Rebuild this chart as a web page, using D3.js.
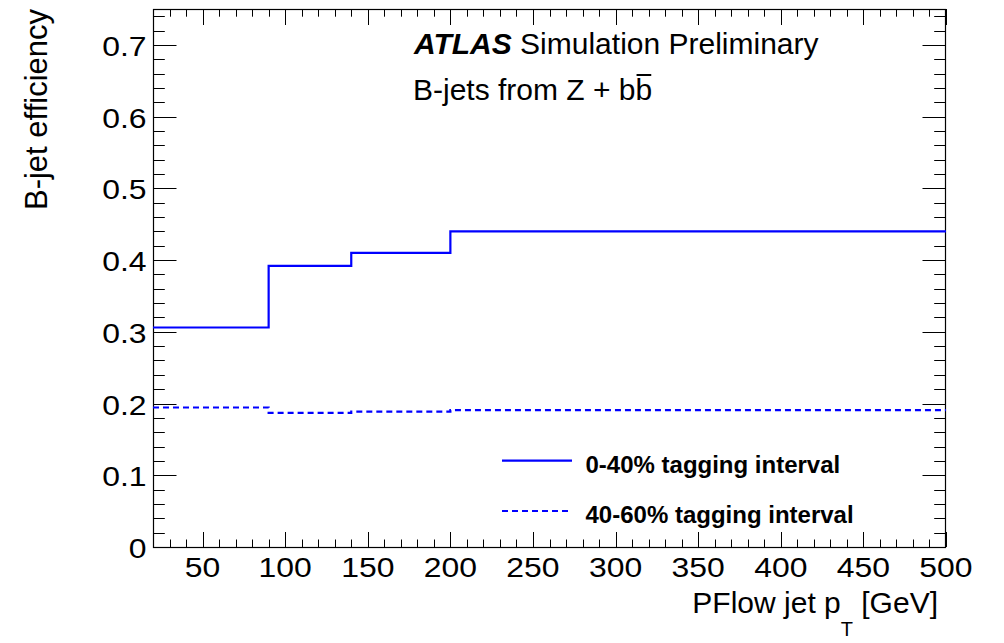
<!DOCTYPE html>
<html><head><meta charset="utf-8">
<script src="https://cdn.jsdelivr.net/npm/d3@7"></script>
<style>
html,body{margin:0;padding:0;background:#fff;}
svg{display:block;font-family:"Liberation Sans",Arial,Helvetica,sans-serif;}
</style></head>
<body>
<svg id="c" width="1004" height="643"></svg>
<script>
// ---- data ----
const binEdges = [20, 90, 140, 200, 500];
const eff0to40 = [0.306, 0.392, 0.410, 0.440];
const eff40to60 = [0.1945, 0.187, 0.1888, 0.1907];
const xMajorTicks = [50, 100, 150, 200, 250, 300, 350, 400, 450, 500];
const yMajorTicks = [0, 0.1, 0.2, 0.3, 0.4, 0.5, 0.6, 0.7];
const legendLabels = ["0-40% tagging interval", "40-60% tagging interval"];

const svg = d3.select("#c");
const L = 153, R = 946, T = 9, B = 547;
const x = d3.scaleLinear().domain([20, 500]).range([L, R]);
const y = d3.scaleLinear().domain([0, 0.75]).range([B, T]);

const xMinor = d3.range(20, 501, 10);
const yMinor = d3.range(0, 0.7501, 0.02);

const ax = svg.append("g").attr("stroke", "#000").attr("stroke-width", 1);
// x ticks bottom & top
xMinor.forEach(v => {
  const maj = xMajorTicks.includes(Math.round(v));
  const px = Math.round(x(v)) + 0.5;
  const lb = maj ? 15 : 7.5, lt = maj ? 16 : 7.7;
  ax.append("line").attr("x1", px).attr("x2", px).attr("y1", B).attr("y2", B - lb);
  ax.append("line").attr("x1", px).attr("x2", px).attr("y1", T).attr("y2", T + lt);
});
// y ticks left & right
yMinor.forEach(v => {
  const maj = Math.abs(v * 10 - Math.round(v * 10)) < 1e-6;
  const py = Math.round(y(v)) + 0.5;
  const l = maj ? 23.5 : 11.8;
  ax.append("line").attr("x1", L).attr("x2", L + l).attr("y1", py).attr("y2", py);
  ax.append("line").attr("x1", R).attr("x2", R - l).attr("y1", py).attr("y2", py);
});
// frame
svg.append("rect").attr("x", L + 0.5).attr("y", T + 0.5).attr("width", R - L - 1).attr("height", B - T)
  .attr("fill", "none").attr("stroke", "#000").attr("stroke-width", 1.2);

// tick labels
const sx = 1.14;
xMajorTicks.forEach(v => {
  svg.append("g").attr("transform", `translate(${x(v)},577) scale(${sx},1)`)
    .append("text").attr("text-anchor", "middle").attr("font-size", 28).text(v);
});
yMajorTicks.forEach(v => {
  svg.append("g").attr("transform", `translate(146.5,${y(v) + 11}) scale(${sx},1)`)
    .append("text").attr("text-anchor", "end").attr("font-size", 28).text(v === 0 ? "0" : d3.format(".1f")(v));
});

// axis titles
const xt = svg.append("text").attr("x", 938).attr("y", 613).attr("text-anchor", "end").attr("font-size", 30);
xt.append("tspan").text("PFlow jet p");
xt.append("tspan").attr("font-size", 20).attr("dy", 23).text("T");
xt.append("tspan").attr("dy", -23).text(" [GeV]");

svg.append("text").attr("transform", "translate(47,9) rotate(-90)").attr("text-anchor", "end")
  .attr("font-size", 31).text("B-jet efficiency");

// labels
const at = svg.append("text").attr("x", 414).attr("y", 53.5).attr("font-size", 30);
at.append("tspan").attr("font-weight", "bold").attr("font-style", "italic").text("ATLAS");
at.append("tspan").text(" Simulation Preliminary");

const bt = svg.append("text").attr("x", 413).attr("y", 100).attr("font-size", 30).text("B-jets from Z + bb");
const ext = bt.node().getExtentOfChar(17);
svg.append("line").attr("x1", ext.x + 1).attr("x2", ext.x + ext.width - 1)
  .attr("y1", 75).attr("y2", 75).attr("stroke", "#000").attr("stroke-width", 2);

// data lines
const pts = arr => binEdges.map((e, i) => [e, arr[Math.min(i, arr.length - 1)]]);
const line = d3.line().x(d => x(d[0])).y(d => y(d[1])).curve(d3.curveStepAfter);
const plot = svg.append("g");
plot.append("path").attr("d", line(pts(eff0to40))).attr("fill", "none")
  .attr("stroke", "#0000ff").attr("stroke-width", 2.2);
plot.append("path").attr("d", line(pts(eff40to60))).attr("fill", "none")
  .attr("stroke", "#0000ff").attr("stroke-width", 2.2).attr("stroke-dasharray", "6,4");

// legend
const legY = [460.7, 511];
const legBase = [472.5, 523];
legendLabels.forEach((lab, i) => {
  svg.append("line").attr("x1", 502).attr("x2", 572).attr("y1", legY[i]).attr("y2", legY[i])
    .attr("stroke", "#0000ff").attr("stroke-width", 2.2)
    .attr("stroke-dasharray", i === 1 ? "6,4" : null);
  svg.append("text").attr("x", 585.5).attr("y", legBase[i]).attr("font-size", 24)
    .attr("font-weight", "bold").text(lab);
});
</script>
</body></html>
